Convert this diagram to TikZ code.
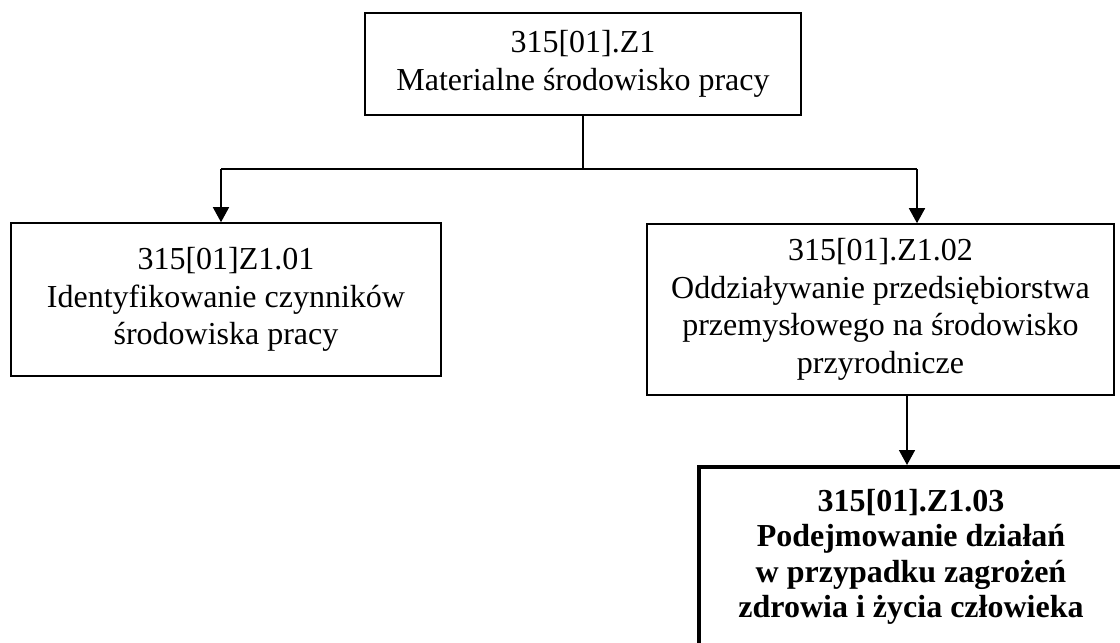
\documentclass[tikz,border=0pt]{standalone}
\usepackage{fontspec}
\setmainfont{Liberation Serif}
\usetikzlibrary{arrows.meta}
\tikzset{
  box/.style={draw, line width=1.6pt, inner sep=0pt, align=center,
    font=\fontsize{32}{37.5}\selectfont},
  boldbox/.style={draw, line width=4pt, inner sep=0pt, align=center,
    font=\fontsize{32}{35.5}\selectfont\bfseries},
  conn/.style={line width=1.6pt},
  arr/.style={line width=1.6pt, -{Triangle[length=15pt,width=16pt]}}
}
\begin{document}
\begin{tikzpicture}[x=1pt,y=-1pt]
\useasboundingbox (0,0) rectangle (1120,643);
\node[box, minimum width=436pt, minimum height=102pt] (top) at (583,64)
  {315[01].Z1\\Materialne środowisko pracy};
\node[box, minimum width=430pt, minimum height=153pt] (left) at (226,299.5)
  {315[01]Z1.01\\Identyfikowanie czynników\\środowiska pracy};
\node[box, minimum width=467pt, minimum height=171pt] (right) at (880.5,309.5)
  {315[01].Z1.02\\Oddziaływanie przedsiębiorstwa\\przemysłowego na środowisko\\przyrodnicze};
\node[boldbox, minimum width=424pt, minimum height=180pt] (bold) at (911,557)
  {315[01].Z1.03\\Podejmowanie działań\\w przypadku zagrożeń\\zdrowia i życia człowieka};
\coordinate (jl) at (221,169);
\coordinate (jr) at (917,169);
\coordinate (kx) at (907,0);
\draw[conn] (top.south) -- (top.south |- jl);
\draw[conn] (jl) -- (jr);
\draw[arr] (jl) -- (jl |- left.north);
\draw[arr] (jr) -- (jr |- right.north);
\draw[arr] (right.south -| kx) -- (bold.north -| kx);
\end{tikzpicture}
\end{document}
